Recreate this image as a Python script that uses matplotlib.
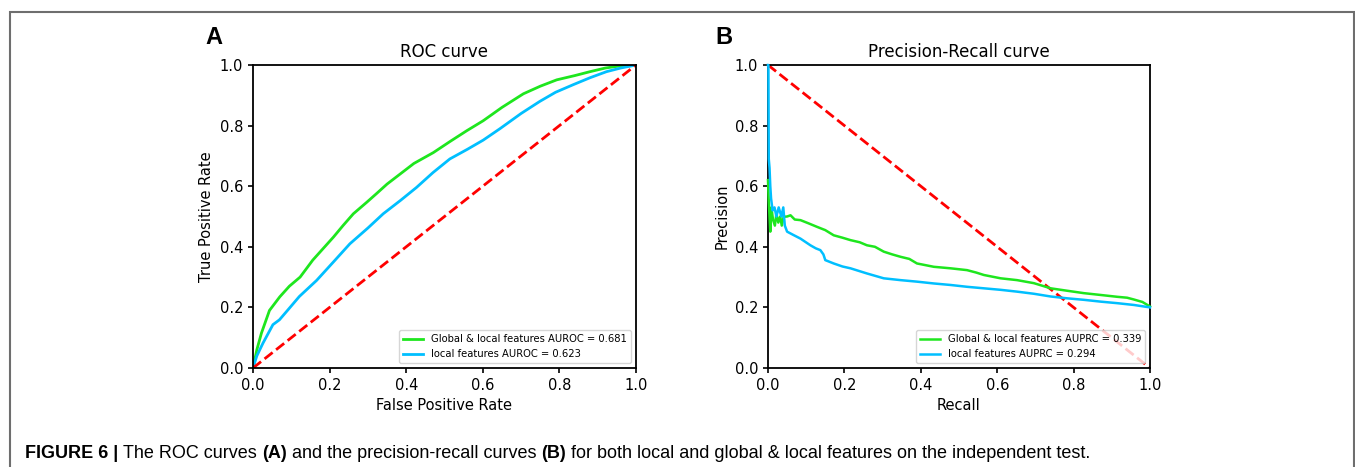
import numpy as np
import matplotlib
matplotlib.use('Agg')
import matplotlib.pyplot as plt
from matplotlib.patches import Rectangle

# ROC curve points
roc_g_fpr = [0.0, 0.01, 0.022, 0.043, 0.07, 0.095, 0.123, 0.156, 0.21, 0.235, 0.262, 0.297,
             0.322, 0.35, 0.384, 0.42, 0.471, 0.515, 0.558, 0.601, 0.65, 0.706, 0.75,
             0.793, 0.84, 0.88, 0.92, 0.958, 1.0]
roc_g_tpr = [0.0, 0.06, 0.115, 0.19, 0.235, 0.27, 0.30, 0.356, 0.432, 0.47, 0.509, 0.547,
             0.575, 0.607, 0.64, 0.675, 0.711, 0.748, 0.783, 0.816, 0.86, 0.905, 0.93,
             0.951, 0.965, 0.978, 0.99, 0.997, 1.0]
roc_b_fpr = [0.0, 0.01, 0.026, 0.052, 0.069, 0.09, 0.121, 0.166, 0.21, 0.253, 0.3, 0.34,
             0.385, 0.427, 0.47, 0.514, 0.56, 0.601, 0.645, 0.7, 0.749, 0.79, 0.836, 0.88,
             0.923, 0.96, 1.0]
roc_b_tpr = [0.0, 0.04, 0.082, 0.143, 0.159, 0.19, 0.236, 0.289, 0.35, 0.41, 0.462, 0.509,
             0.553, 0.596, 0.645, 0.69, 0.722, 0.752, 0.79, 0.84, 0.88, 0.91, 0.935, 0.958,
             0.978, 0.99, 1.0]

# Precision-recall points
pr_g_rec = [0.0, 0.002, 0.004, 0.006, 0.009, 0.013, 0.018, 0.022, 0.027, 0.032, 0.036, 0.041,
            0.05, 0.059, 0.07, 0.085, 0.105, 0.128, 0.15, 0.172, 0.195, 0.216, 0.24, 0.259,
            0.28, 0.303, 0.325, 0.347, 0.37, 0.39, 0.41, 0.434, 0.478, 0.521, 0.545, 0.565,
            0.609, 0.652, 0.696, 0.74, 0.783, 0.827, 0.871, 0.914, 0.94, 0.958, 0.98, 1.0]
pr_g_prec = [0.62, 0.55, 0.5, 0.45, 0.53, 0.49, 0.47, 0.51, 0.48, 0.5, 0.47, 0.499,
             0.5, 0.504, 0.49, 0.488, 0.478, 0.466, 0.455, 0.438, 0.43, 0.422, 0.415, 0.405,
             0.4, 0.384, 0.375, 0.367, 0.36, 0.345, 0.34, 0.334, 0.329, 0.323, 0.315, 0.307,
             0.296, 0.29, 0.28, 0.263, 0.255, 0.247, 0.241, 0.235, 0.232, 0.226, 0.218, 0.203]
pr_b_rec = [0.0, 0.001, 0.002, 0.004, 0.006, 0.008, 0.012, 0.017, 0.022, 0.028, 0.035, 0.04,
            0.044, 0.05, 0.065, 0.085, 0.111, 0.125, 0.137, 0.145, 0.15, 0.172, 0.195, 0.216,
            0.259, 0.303, 0.347, 0.39, 0.434, 0.478, 0.521, 0.565, 0.609, 0.652, 0.696, 0.74,
            0.783, 0.827, 0.871, 0.914, 0.958, 1.0]
pr_b_prec = [1.0, 1.0, 0.69, 0.66, 0.6, 0.56, 0.52, 0.53, 0.5, 0.53, 0.5, 0.53,
             0.47, 0.45, 0.44, 0.427, 0.405, 0.395, 0.389, 0.375, 0.356, 0.345, 0.335, 0.329,
             0.312, 0.296, 0.29, 0.285, 0.279, 0.274, 0.268, 0.263, 0.258, 0.252, 0.245, 0.236,
             0.23, 0.225, 0.219, 0.214, 0.208, 0.2]

auroc = [0.681, 0.623]
auprc = [0.339, 0.294]

GREEN = '#1ee61e'
BLUE = '#00bfff'

W, H = 1355, 467
fig = plt.figure(figsize=(W / 100, H / 100), dpi=100)

def ax_rect(x0, x1, y0, y1):
    return [x0 / W, 1 - y1 / H, (x1 - x0) / W, (y1 - y0) / H]

axA = fig.add_axes(ax_rect(253, 636, 65, 368))
axB = fig.add_axes(ax_rect(768, 1150, 65, 368))

# ROC
axA.plot(roc_g_fpr, roc_g_tpr, color=GREEN, lw=2,
         label='Global & local features AUROC = %.3f' % auroc[0])
axA.plot(roc_b_fpr, roc_b_tpr, color=BLUE, lw=2,
         label='local features AUROC = %.3f' % auroc[1])
axA.plot([0, 1], [0, 1], color='red', lw=2, ls='--')
axA.set_title('ROC curve', fontsize=12)
axA.set_xlabel('False Positive Rate', fontsize=10.5)
axA.set_ylabel('True Positive Rate', fontsize=10.5)

# PR
axB.plot(pr_g_rec, pr_g_prec, color=GREEN, lw=1.8, clip_on=False, zorder=3,
         label='Global & local features AUPRC = %.3f' % auprc[0])
axB.plot(pr_b_rec, pr_b_prec, color=BLUE, lw=1.8, clip_on=False, zorder=3,
         label='local features AUPRC = %.3f' % auprc[1])
axB.plot([0, 1], [1, 0], color='red', lw=2, ls='--')
axB.set_title('Precision-Recall curve', fontsize=12)
axB.set_xlabel('Recall', fontsize=10.5)
axB.set_ylabel('Precision', fontsize=10.5)

for ax in (axA, axB):
    ax.set_xlim(0, 1)
    ax.set_ylim(0, 1)
    ax.set_xticks(np.arange(0, 1.01, 0.2))
    ax.set_yticks(np.arange(0, 1.01, 0.2))
    ax.tick_params(labelsize=10.5, width=1.2)
    for s in ax.spines.values():
        s.set_linewidth(1.3)
    leg = ax.legend(loc='lower right', fontsize=7.2)
    leg.set_zorder(5)

fig.text(205 / W, 1 - 38 / H, 'A', fontsize=17, fontweight='bold',
         family='Liberation Sans', va='center', ha='left')
fig.text(715 / W, 1 - 38 / H, 'B', fontsize=17, fontweight='bold',
         family='Liberation Sans', va='center', ha='left')

# figure frame (open at the bottom)
fig.add_artist(Rectangle((9.5 / W, -0.1), (W - 10.5) / W, 1.1 - 11.5 / H,
                         transform=fig.transFigure, fill=False,
                         edgecolor='#6e6e6e', lw=1.5))

# caption
cap_y = 1 - 453 / H
parts = [('FIGURE 6 | ', 'bold'), ('The ROC curves ', 'normal'), ('(A)', 'bold'),
         (' and the precision-recall curves ', 'normal'), ('(B)', 'bold'),
         (' for both local and global & local features on the independent test.', 'normal')]
fig.canvas.draw()
r = fig.canvas.get_renderer()
x = 25
for txt, wt in parts:
    t = fig.text(x / W, cap_y, txt, fontsize=13, fontweight=wt,
                 family='Liberation Sans', va='center', ha='left')
    bb = t.get_window_extent(renderer=r)
    x += bb.width

fig.savefig('out.png', dpi=100)
